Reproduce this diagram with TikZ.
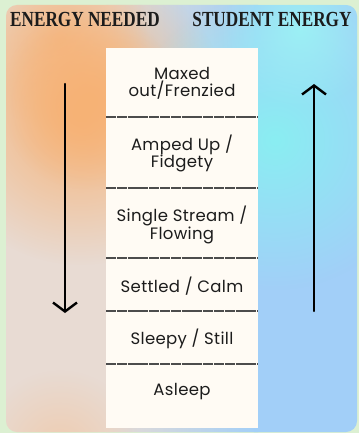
\documentclass[tikz,border=0pt]{standalone}
\usepackage{fontspec}
\setmainfont[LetterSpace=2]{Poppins}
\newfontfamily\titlefont[FakeStretch=0.8]{Liberation Serif Bold}
\usetikzlibrary{arrows.meta,fadings,positioning}
\definecolor{bggreen}{HTML}{DCF0D2}
\definecolor{warmleft}{HTML}{E8DBD3}
\definecolor{coolright}{HTML}{A2CFF8}
\definecolor{orangeglow}{HTML}{F7B275}
\definecolor{peachglow}{HTML}{EFCCB0}
\definecolor{cyanglow}{HTML}{8AEEF2}
\definecolor{paper}{HTML}{FFFBF4}
\definecolor{ink}{HTML}{1C1C1C}
\tikzfading[name=softblob, inner color=transparent!0, outer color=transparent!100]
\tikzset{
  heading/.style={font=\titlefont\fontsize{21.5}{23}\selectfont, text=ink, anchor=base, inner sep=0pt},
  level/.style={font=\fontsize{16.5}{17}\selectfont, text=ink, align=center, inner sep=0pt},
  divider/.style={draw=black!70, line width=1.8pt, dash pattern=on 10pt off 0.8pt},
  energyarrow/.style={draw=black, line width=2.4pt, line cap=round, -{Straight Barb[length=9pt,width=24pt]}}
}
\begin{document}
\begin{tikzpicture}[x=1pt,y=-1pt]
\useasboundingbox (0,0) rectangle (359,433);
\fill[bggreen] (0,0) rectangle (359,433);
% soft background
\begin{scope}
  \clip[rounded corners=11pt] (6,5) rectangle (357,432);
  \fill[warmleft] (6,5) rectangle (110,433);
  \shade[left color=warmleft, right color=coolright] (106,5) rectangle (258,433);
  \fill[coolright] (254,5) rectangle (359,433);
  \fill[orangeglow!70!warmleft, path fading=softblob] (60,40) circle (90);
  \fill[orangeglow, path fading=softblob] (80,115) circle (150);
  \fill[orangeglow, path fading=softblob] (90,100) circle (90);
  \fill[peachglow, path fading=softblob] (60,450) circle (80);
  \fill[cyanglow, path fading=softblob] (275,140) circle (150);
  \fill[cyanglow!85!white, path fading=softblob] (300,30) circle (80);
\end{scope}
% headings
\node[heading] (needed) at (85,27) {ENERGY NEEDED};
\node[heading] (student) at (272,27) {STUDENT ENERGY};
% column of levels
\fill[paper] (106,48) rectangle (258,428);
\foreach \y in {117,188,258,311,364}
  \draw[divider] (106,\y) -- (258,\y);
\node[level] (maxed) at (182,83) {Maxed\\out/Frenzied};
\node[level] (amped) at (182,153) {Amped Up /\\Fidgety};
\node[level] (single) at (182,225) {Single Stream /\\Flowing};
\node[level] (settled) at (182,286) {Settled / Calm};
\node[level] (sleepy) at (182,339) {Sleepy / Still};
\node[level] (asleep) at (182,392) {Asleep};
% arrows
\coordinate (needtop) at (65,84);
\coordinate (needbot) at (65,313);
\coordinate (studbot) at (314,311);
\coordinate (studtop) at (314,84);
\draw[energyarrow] (needtop) -- (needbot);
\draw[energyarrow] (studbot) -- (studtop);
\end{tikzpicture}
\end{document}
